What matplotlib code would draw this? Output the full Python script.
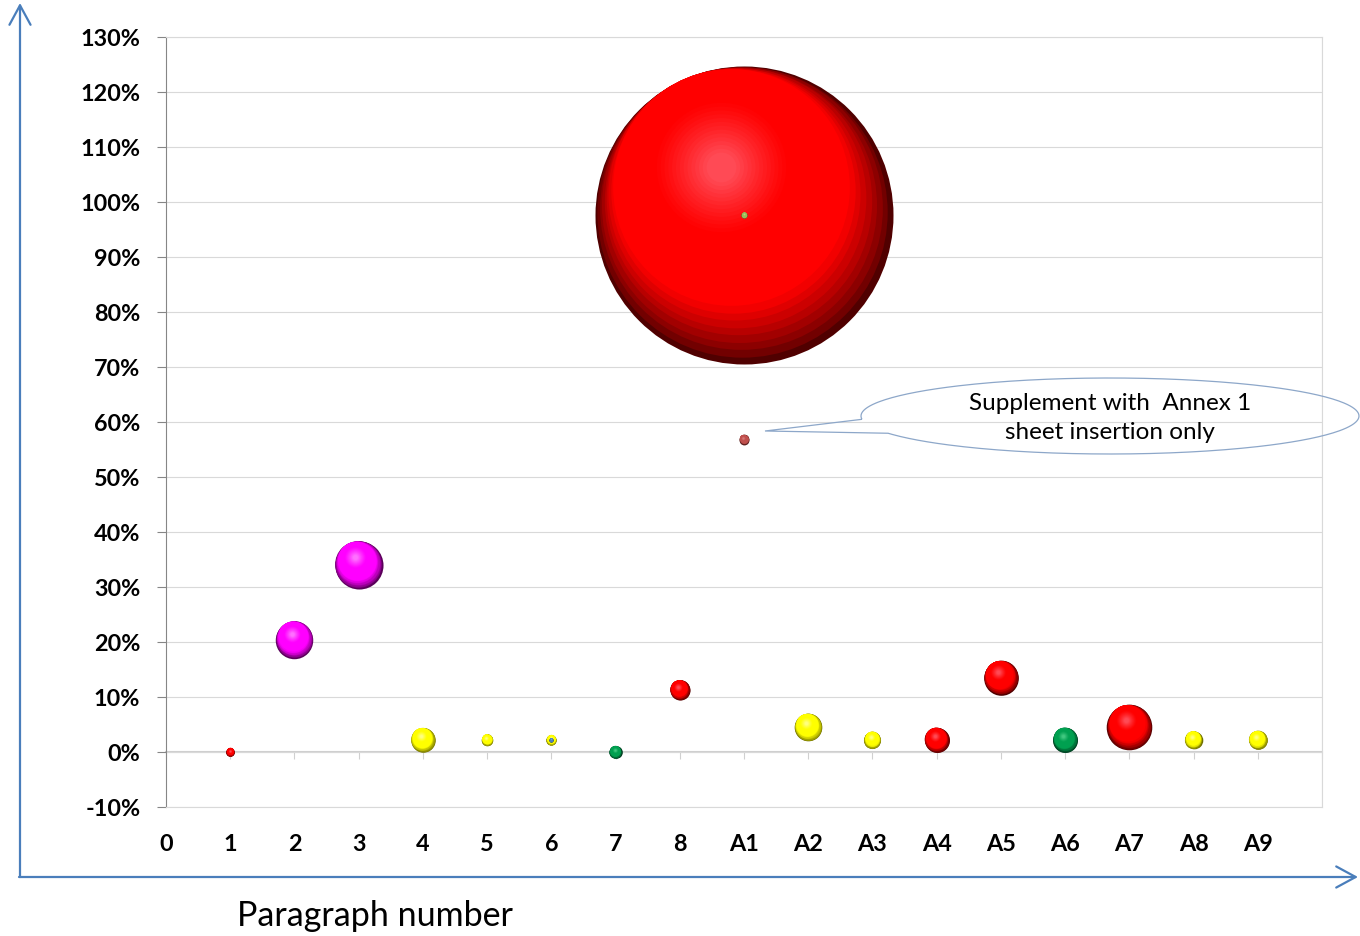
import matplotlib
matplotlib.use("Agg")
import matplotlib.pyplot as plt
import matplotlib.transforms as mtransforms
from matplotlib.path import Path
from matplotlib.patches import PathPatch
from matplotlib.colors import to_rgb
import numpy as np

# ---------------- data ----------------
tick_labels = ["0", "1", "2", "3", "4", "5", "6", "7", "8",
               "A1", "A2", "A3", "A4", "A5", "A6", "A7", "A8", "A9"]
point_x = [1, 2, 3, 4, 5, 6, 6, 7, 8, 9, 9, 9, 10, 11, 12, 13, 14, 15, 16, 17]
point_y = [0.0, 20.4, 34.0, 2.2, 2.2, 2.2, 2.2, 0.0, 11.3, 97.6, 97.6, 56.8,
           4.5, 2.2, 2.2, 13.5, 2.2, 4.5, 2.2, 2.2]
point_size = [0.083, 1.58, 2.6, 0.67, 0.15, 0.12, 0.018, 0.18, 0.45, 100.0, 0.04, 0.11,
              0.86, 0.33, 0.70, 1.35, 0.70, 2.34, 0.35, 0.39]
point_color = ["red", "magenta", "magenta", "yellow", "yellow", "yellow", "blue", "green",
               "red", "red", "olive", "brick", "yellow", "yellow", "red", "red", "green",
               "red", "yellow", "yellow"]
y_ticks = list(range(-10, 131, 10))
callout_text = "Supplement with  Annex 1\nsheet insertion only"
x_title = "Paragraph number"

palette = {
    "red": ("#FF0000", "#500000", "#FF4A55"),
    "magenta": ("#FF00FF", "#5A005A", "#FF70FF"),
    "yellow": ("#FFFF00", "#707000", "#FFFF80"),
    "green": ("#00A050", "#003A1E", "#40C880"),
    "brick": ("#C0504D", "#5A1F1E", "#D87A78"),
    "olive": ("#9BBB59", "#4E5E2C", "#B8D880"),
    "blue": ("#4F81BD", "#233A55", "#80A8D8"),
}

W, H, DPI = 1360, 937, 100
fig = plt.figure(figsize=(W / DPI, H / DPI), dpi=DPI)
fig.patch.set_facecolor("white")

ax = fig.add_axes([166 / W, 1 - 808 / H, (1322 - 166) / W, (808 - 38) / H])
ax.set_xlim(0, 18)
ax.set_ylim(-10, 130)
ax.set_axisbelow(True)

grid_c = "#D9D9D9"
ax.set_xticks(range(0, 19), minor=True)
ax.set_xticks(range(len(tick_labels)))
ax.set_xticklabels(tick_labels)
ax.set_yticks(y_ticks)
ax.set_yticklabels([f"{v}%" for v in y_ticks])
ax.grid(True, which="minor", axis="x", color=grid_c, lw=0.8)
ax.grid(True, which="major", axis="y", color=grid_c, lw=0.8)
ax.tick_params(axis="x", which="both", length=0, pad=18.5)
ax.tick_params(axis="y", length=6.5, width=0.8, color="#868686", pad=12, direction="out")
for lab in ax.get_xticklabels() + ax.get_yticklabels():
    lab.set_fontfamily("Lato")
    lab.set_fontweight("bold")
    lab.set_fontsize(16.8)
    lab.set_color("black")
for s in ["top", "right", "bottom"]:
    ax.spines[s].set_color(grid_c)
    ax.spines[s].set_linewidth(0.8)
ax.spines["left"].set_color("#868686")
ax.spines["left"].set_linewidth(0.8)

# horizontal axis line at 0 %
sec = ax.secondary_xaxis(10 / 140)
sec.set_xticks(range(0, 19))
sec.tick_params(axis="x", length=5, width=0.8, color="#D0D0D0", labelbottom=False, direction="out")
sec.spines["bottom"].set_color("#CFCFCF")
sec.spines["bottom"].set_linewidth(1.5)


def mix(c1, c2, t):
    a, b = np.array(to_rgb(c1)), np.array(to_rgb(c2))
    return tuple(a + (b - a) * t)


size_max = max(point_size)
R_MAX = 149.0  # px radius of the largest bubble
N = 36
hx, hy = -0.42, 0.90  # direction of highlight (up-left)
hn = np.hypot(hx, hy)
hx, hy = hx / hn, hy / hn
order = np.argsort(point_size)[::-1]
z = 3
for i in order:
    x, y, s, ck = point_x[i], point_y[i], point_size[i], point_color[i]
    base, dark, light = palette[ck]
    R = R_MAX * np.sqrt(s / size_max)
    for k in range(N):
        t = k / (N - 1)
        r = R * (1 - 0.9 * t)
        m = min(R - r, 0.36 * R)
        ox, oy = hx * m, hy * m
        if t < 0.22:
            col = mix(dark, base, (t / 0.22) ** 0.8)
        elif t < 0.6:
            col = to_rgb(base)
        else:
            col = mix(base, light, ((t - 0.6) / 0.4) ** 1.2)
        tr = ax.transData + mtransforms.ScaledTranslation(ox / DPI, oy / DPI, fig.dpi_scale_trans)
        ax.scatter([x], [y], s=(2 * r * 72 / DPI) ** 2, color=[col], linewidths=0,
                   transform=tr, zorder=z, clip_on=False)
        z += 0.001
    z += 0.1

# ---------------- overlay (pixel coordinates) ----------------
ov = fig.add_axes([0, 0, 1, 1], facecolor="none")
ov.set_xlim(0, W)
ov.set_ylim(H, 0)
ov.axis("off")

arrow_c = "#4A7EBB"
ov.annotate("", xy=(20, 4), xytext=(20, 878),
            arrowprops=dict(arrowstyle="->,head_length=0.7,head_width=0.38", color=arrow_c,
                            lw=1.6, shrinkA=0, shrinkB=0, mutation_scale=20))
ov.annotate("", xy=(1358, 878), xytext=(19, 878),
            arrowprops=dict(arrowstyle="->,head_length=0.7,head_width=0.38", color=arrow_c,
                            lw=1.6, shrinkA=0, shrinkB=0, mutation_scale=20))
ov.text(375, 916, x_title, ha="center", va="center", fontsize=24.5, family="Lato", color="black")

# callout
cx, cy, a, b = 1110, 417, 249, 38
th = np.radians(np.linspace(175, 153 + 360, 300))
pts = np.column_stack([cx + a * np.cos(th), cy + b * np.sin(th)])
pts = np.vstack([pts, [[765, 432]], pts[:1]])
ov.add_patch(PathPatch(Path(pts), facecolor="none", edgecolor="#8DA7C9", lw=0.9))
ov.text(cx, cy + 1, callout_text, ha="center", va="center", fontsize=17.5, family="Lato",
        linespacing=1.5, color="black")

fig.savefig("out.png", dpi=DPI)
